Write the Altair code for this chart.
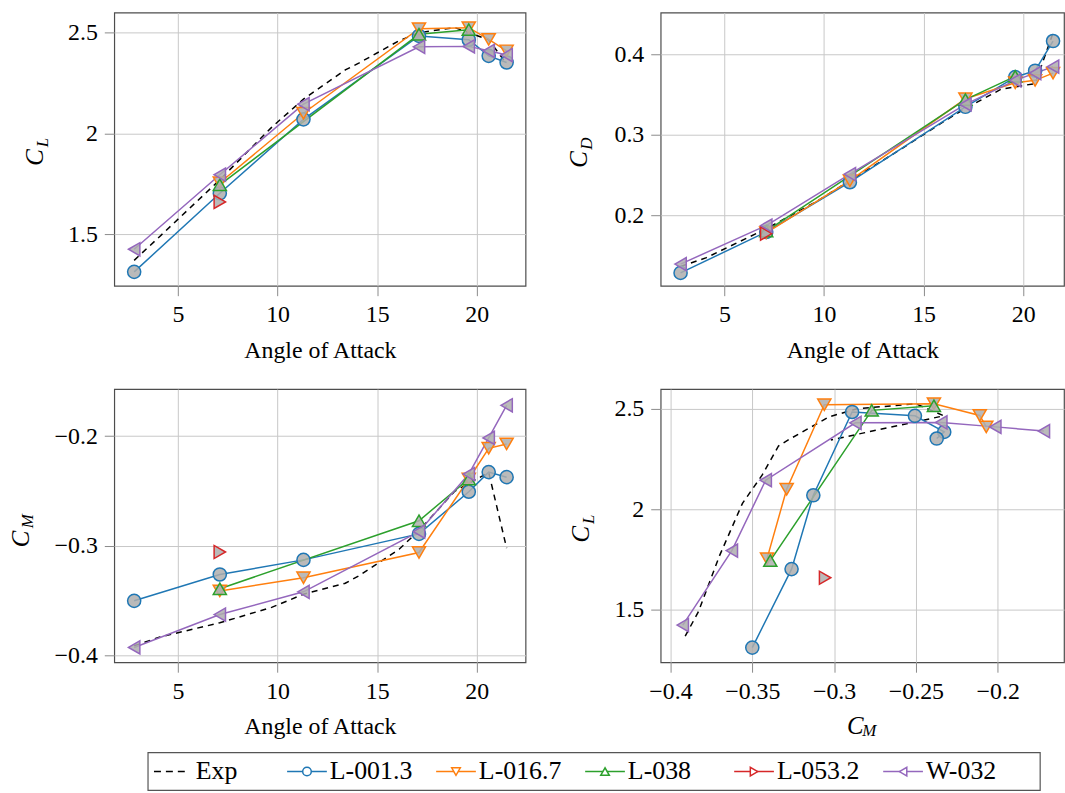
import altair as alt
import pandas as pd

FONT = "Liberation Serif"
SERIES = ["Exp", "L-001.3", "L-016.7", "L-038", "L-053.2", "W-032"]
COLORS = ["#000000", "#1f77b4", "#ff7f0e", "#2ca02c", "#d62728", "#9467bd"]
SIMS = ["L-001.3", "L-016.7", "L-038", "L-053.2", "W-032"]
SHAPES = ["circle", "triangle-down", "triangle-up", "triangle-right", "triangle-left"]

# Experimental data (dashed)
exp_alpha = [2.8, 4.1, 7.1, 9.7, 11.3, 13.4, 14.1, 16.1, 17.1, 18.9, 20.6, 21.5]
exp_cl = [1.37, 1.49, 1.77, 2.03, 2.17, 2.315, 2.35, 2.46, 2.50, 2.525, 2.465, 2.345]
exp_cd = [0.136, 0.147, 0.183, 0.218, 0.243, 0.275, 0.286, 0.318, 0.333, 0.357, 0.364, 0.427]
exp_cm = [-0.391, -0.383, -0.370, -0.356, -0.344, -0.334, -0.327, -0.303, -0.286, -0.250, -0.233, -0.302]

# Simulations
l001_alpha = [2.8, 7.1, 11.3, 17.1, 19.6, 20.6, 21.5]
l001_cl = [1.313, 1.703, 2.07, 2.484, 2.465, 2.385, 2.352]
l001_cd = [0.128, 0.179, 0.241, 0.335, 0.372, 0.380, 0.417]
l001_cm = [-0.350, -0.326, -0.3127, -0.289, -0.2506, -0.2327, -0.2373]

l016_alpha = [7.1, 11.3, 17.1, 19.6, 20.6, 21.5]
l016_cl = [1.755, 2.10, 2.52, 2.525, 2.467, 2.41]
l016_cd = [0.178, 0.243, 0.345, 0.365, 0.368, 0.377]
l016_cm = [-0.341, -0.329, -0.306, -0.239, -0.211, -0.207]

l038_alpha = [7.1, 17.1, 19.6]
l038_cl = [1.745, 2.492, 2.515]
l038_cd = [0.180, 0.344, 0.373]
l038_cm = [-0.339, -0.277, -0.239]

l053_alpha = [7.1]
l053_cl = [1.66]
l053_cd = [0.177]
l053_cm = [-0.3055]

w032_alpha = [2.8, 7.1, 11.3, 17.1, 19.6, 20.6, 21.5]
w032_cl = [1.425, 1.795, 2.145, 2.43, 2.432, 2.41, 2.389]
w032_cd = [0.139, 0.187, 0.251, 0.338, 0.368, 0.377, 0.385]
w032_cm = [-0.3925, -0.3625, -0.3418, -0.287, -0.2345, -0.2015, -0.1718]


def frame(name, a, cl, cd, cm):
    return pd.DataFrame({"series": name, "alpha": a, "CL": cl, "CD": cd, "CM": cm})


exp_df = frame("Exp", exp_alpha, exp_cl, exp_cd, exp_cm)
sim_df = pd.concat([
    frame("L-001.3", l001_alpha, l001_cl, l001_cd, l001_cm),
    frame("L-016.7", l016_alpha, l016_cl, l016_cd, l016_cm),
    frame("L-038", l038_alpha, l038_cl, l038_cd, l038_cm),
    frame("L-053.2", l053_alpha, l053_cl, l053_cd, l053_cm),
    frame("W-032", w032_alpha, w032_cl, w032_cd, w032_cm),
], ignore_index=True)

one = pd.DataFrame({"k": [0]})

COLOR = alt.Color("series:N", scale=alt.Scale(domain=SERIES, range=COLORS), legend=None)
SHAPE = alt.Shape("series:N", scale=alt.Scale(domain=SIMS, range=SHAPES), legend=None)


def text_mark(t, size, x, y, angle=0):
    return alt.Chart(one).mark_text(
        text=t, font=FONT, fontSize=size, fontStyle="italic", angle=angle,
        align="center", baseline="middle", color="black",
    ).encode(x=alt.value(x), y=alt.value(y))


def panel(xf, yf, xdom, ydom, xticks, yticks, width, xtitle, ysub, yc, ys, xc=None, xsub=None, xs=None):
    xax = alt.Axis(values=xticks, format="~g", title=xtitle if xtitle else None,
                   labelOverlap=False, labelFlush=False, titleY=65, titleBaseline="middle")
    yax = alt.Axis(values=yticks, format="~g", title=None, labelOverlap=False, labelFlush=False)
    X = alt.X(f"{xf}:Q", scale=alt.Scale(domain=xdom, nice=False, zero=False), axis=xax)
    Y = alt.Y(f"{yf}:Q", scale=alt.Scale(domain=ydom, nice=False, zero=False), axis=yax)
    exp_line = alt.Chart(exp_df).mark_line(strokeDash=[6, 5], strokeWidth=1.5).encode(
        x=X, y=Y, color=COLOR, order=alt.Order("alpha:Q"))
    sim_line = alt.Chart(sim_df).mark_line(strokeWidth=1.5).encode(
        x=X, y=Y, color=COLOR, detail="series:N", order=alt.Order("alpha:Q"))
    pts = alt.Chart(sim_df).mark_point(
        filled=False, fill="#aeaeae", fillOpacity=0.85, strokeWidth=1.5, size=175, opacity=1
    ).encode(x=X, y=Y, color=COLOR, shape=SHAPE)
    layers = [exp_line, sim_line, pts,
              text_mark("C", 25, yc[0], yc[1], 270),
              text_mark(ysub, 17, ys[0], ys[1], 270)]
    if xc is not None:
        layers += [text_mark("C", 25, xc[0], xc[1]), text_mark(xsub, 17, xs[0], xs[1])]
    return alt.layer(*layers).properties(width=width, height=275)


AOA_L = [1.8, 22.45]
AOA_R = [1.8, 22.05]
CL_DOM = [1.244, 2.6]

p1 = panel("alpha", "CL", AOA_L, CL_DOM, [5, 10, 15, 20], [1.5, 2, 2.5], 414,
           "Angle of Attack", "L", (-80, 146), (-72, 131))
p2 = panel("alpha", "CD", AOA_R, [0.112, 0.4525], [5, 10, 15, 20], [0.2, 0.3, 0.4], 406,
           "Angle of Attack", "D", (-82, 148), (-74, 132))
p3 = panel("alpha", "CM", AOA_L, [-0.406, -0.157], [5, 10, 15, 20], [-0.4, -0.3, -0.2], 414,
           "Angle of Attack", "M", (-94, 151), (-87, 133))
p4 = panel("CM", "CL", [-0.406, -0.1595], [1.24, 2.598], [-0.4, -0.35, -0.3, -0.25, -0.2],
           [1.5, 2, 2.5], 406, None, "L", (-80, 146), (-72, 131),
           xc=(196, 339), xsub="M", xs=(210, 344))

# ---- legend drawn as its own small chart (content overflows its nominal box) ----
leg_df = pd.DataFrame({"series": SERIES, "slot": list(range(len(SERIES)))})
LX = alt.X("slot:Q", scale=alt.Scale(domain=[0, len(SERIES)], range=[32, 932], nice=False, zero=False),
           axis=None)
LX2 = alt.X2("slot:Q")
LY = alt.value(6)
leg_base = alt.Chart(leg_df)
leg_box = alt.Chart(one).mark_rect(fill="white", stroke="#555555", strokeWidth=1.2).encode(
    x=alt.value(34), x2=alt.value(932), y=alt.value(-13), y2=alt.value(25))
leg_exp = leg_base.transform_filter(alt.datum.series == "Exp").mark_rule(
    strokeDash=[7, 5], strokeWidth=1.5, xOffset=8, x2Offset=43
).encode(x=LX, x2=LX2, y=LY, color=COLOR)
leg_sim_line = leg_base.transform_filter(alt.datum.series != "Exp").mark_rule(
    strokeWidth=1.5, xOffset=-8, x2Offset=32
).encode(x=LX, x2=LX2, y=LY, color=COLOR)
leg_pts = leg_base.transform_filter(alt.datum.series != "Exp").mark_point(
    filled=False, fill="white", strokeWidth=1.5, size=75, xOffset=12, opacity=1
).encode(x=LX, y=LY, color=COLOR, shape=SHAPE)
leg_txt_exp = leg_base.transform_filter(alt.datum.series == "Exp").mark_text(
    font=FONT, fontSize=26, align="left", baseline="middle", color="black", dx=50
).encode(x=LX, y=LY, text="series:N")
leg_txt = leg_base.transform_filter(alt.datum.series != "Exp").mark_text(
    font=FONT, fontSize=26, align="left", baseline="middle", color="black", dx=35
).encode(x=LX, y=LY, text="series:N")
legend = alt.layer(leg_box, leg_exp, leg_sim_line, leg_pts, leg_txt_exp, leg_txt).properties(
    width=414, height=20, view=alt.ViewBackground(stroke=None))

chart = alt.concat(
    p1, p2, p3, p4, legend, columns=2, spacing={"row": 104, "column": 136}, bounds="flush"
).resolve_scale(
    color="shared", shape="shared"
).properties(
    padding={"left": 8, "top": 9, "right": 0, "bottom": 1},
    background="white",
).configure_view(
    stroke="#4d4d4d", strokeWidth=1.2
).configure_axis(
    labelFont=FONT, labelFontSize=24, labelColor="black",
    titleFont=FONT, titleFontSize=24, titleFontWeight="normal", titleColor="black",
    gridColor="#c8c8c8", gridWidth=1, tickColor="#8a8a8a", tickSize=10, domain=False,
    labelPadding=7,
)

chart.save("out.html", embed_options={"renderer": "svg", "actions": False})
